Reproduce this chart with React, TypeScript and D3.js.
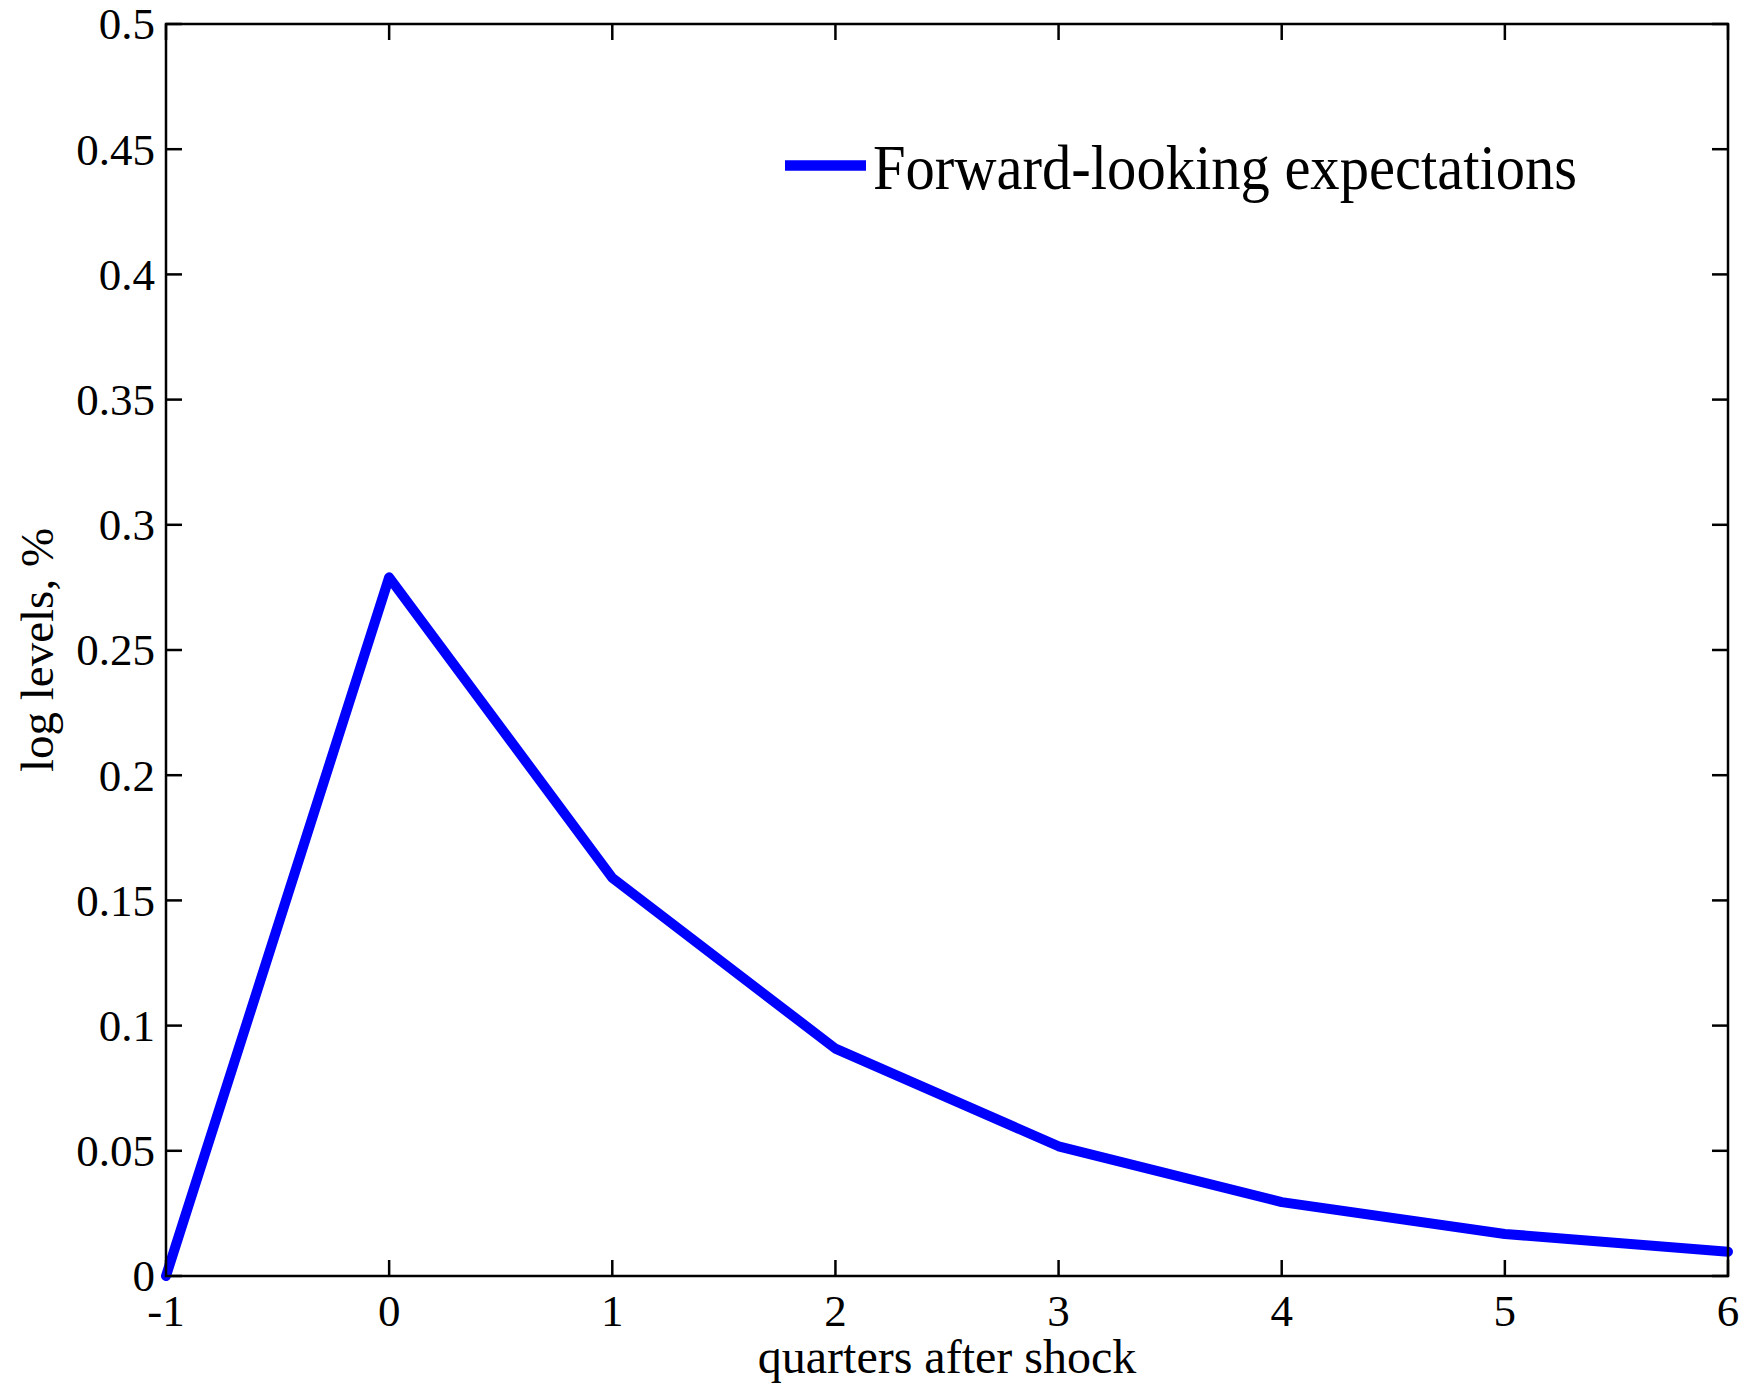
import React, { useEffect, useRef } from 'react'
import * as d3 from 'd3'

// quarters after shock and the response (log levels, %)
const quarters = [-1, 0, 1, 2, 3, 4, 5, 6]
const forwardLooking = [0, 0.279, 0.159, 0.0908, 0.0518, 0.0295, 0.0168, 0.0097]
const yTicks = [0, 0.05, 0.1, 0.15, 0.2, 0.25, 0.3, 0.35, 0.4, 0.45, 0.5]
const xTicks = [-1, 0, 1, 2, 3, 4, 5, 6]
const seriesName = 'Forward-looking expectations'

const App = () => {
  const chartRef = useRef<SVGSVGElement | null>(null)

  useEffect(() => {
    const width = 1757
    const height = 1387
    const margin = { left: 166, right: 29, top: 24, bottom: 111 }
    const font = '"Liberation Serif", "Times New Roman", serif'
    const tickLen = 16

    const svg = d3.select(chartRef.current)
    svg.selectAll('*').remove()
    svg.attr('width', width).attr('height', height)

    svg.append('rect').attr('width', width).attr('height', height).attr('fill', '#fff')

    const x = d3.scaleLinear().domain([-1, 6]).range([margin.left, width - margin.right])
    const y = d3.scaleLinear().domain([0, 0.5]).range([height - margin.bottom, margin.top])

    const [x0, x1] = x.range()
    const [y0, y1] = y.range()

    // ticks pointing inward, on all four sides
    const g = svg.append('g').attr('stroke', '#000').attr('stroke-width', 2.5)
    yTicks.forEach((t) => {
      g.append('line').attr('x1', x0).attr('x2', x0 + tickLen).attr('y1', y(t)).attr('y2', y(t))
      g.append('line').attr('x1', x1).attr('x2', x1 - tickLen).attr('y1', y(t)).attr('y2', y(t))
    })
    xTicks.forEach((t) => {
      g.append('line').attr('x1', x(t)).attr('x2', x(t)).attr('y1', y0).attr('y2', y0 - tickLen)
      g.append('line').attr('x1', x(t)).attr('x2', x(t)).attr('y1', y1).attr('y2', y1 + tickLen)
    })

    // data line
    const line = d3
      .line<number>()
      .x((d, i) => x(quarters[i]))
      .y((d) => y(d))

    svg
      .append('path')
      .datum(forwardLooking)
      .attr('d', line)
      .attr('fill', 'none')
      .attr('stroke', '#0000ff')
      .attr('stroke-width', 10)
      .attr('stroke-linejoin', 'round')
      .attr('stroke-linecap', 'round')

    // frame
    svg
      .append('rect')
      .attr('x', x0)
      .attr('y', y1)
      .attr('width', x1 - x0)
      .attr('height', y0 - y1)
      .attr('fill', 'none')
      .attr('stroke', '#000')
      .attr('stroke-width', 2.5)

    // tick labels
    svg
      .append('g')
      .selectAll('text')
      .data(yTicks)
      .enter()
      .append('text')
      .attr('x', x0 - 11)
      .attr('y', (d) => y(d))
      .attr('dy', '0.34em')
      .attr('text-anchor', 'end')
      .attr('font-family', font)
      .attr('font-size', 45)
      .text((d) => String(d))

    svg
      .append('g')
      .selectAll('text')
      .data(xTicks)
      .enter()
      .append('text')
      .attr('x', (d) => x(d))
      .attr('y', 1326)
      .attr('text-anchor', 'middle')
      .attr('font-family', font)
      .attr('font-size', 45)
      .text((d) => (d < 0 ? '-' + Math.abs(d) : String(d)))

    // axis labels
    svg
      .append('text')
      .attr('x', (x0 + x1) / 2)
      .attr('y', 1373)
      .attr('text-anchor', 'middle')
      .attr('font-family', font)
      .attr('font-size', 48)
      .text('quarters after shock')

    svg
      .append('text')
      .attr('transform', `translate(53,${(y0 + y1) / 2}) rotate(-90)`)
      .attr('text-anchor', 'middle')
      .attr('font-family', font)
      .attr('font-size', 47)
      .text('log levels, %')

    // legend
    svg
      .append('line')
      .attr('x1', 785)
      .attr('x2', 866)
      .attr('y1', 165.5)
      .attr('y2', 165.5)
      .attr('stroke', '#0000ff')
      .attr('stroke-width', 10.5)

    svg
      .append('text')
      .attr('x', 873)
      .attr('y', 189)
      .attr('font-family', font)
      .attr('font-size', 63)
      .attr('textLength', 704)
      .attr('lengthAdjust', 'spacingAndGlyphs')
      .text(seriesName)

    return () => {
      d3.select(chartRef.current).selectAll('*').remove()
    }
  }, [])

  return <svg ref={chartRef} style={{ position: 'absolute', left: 0, top: 0, display: 'block' }}></svg>
}

export default App
